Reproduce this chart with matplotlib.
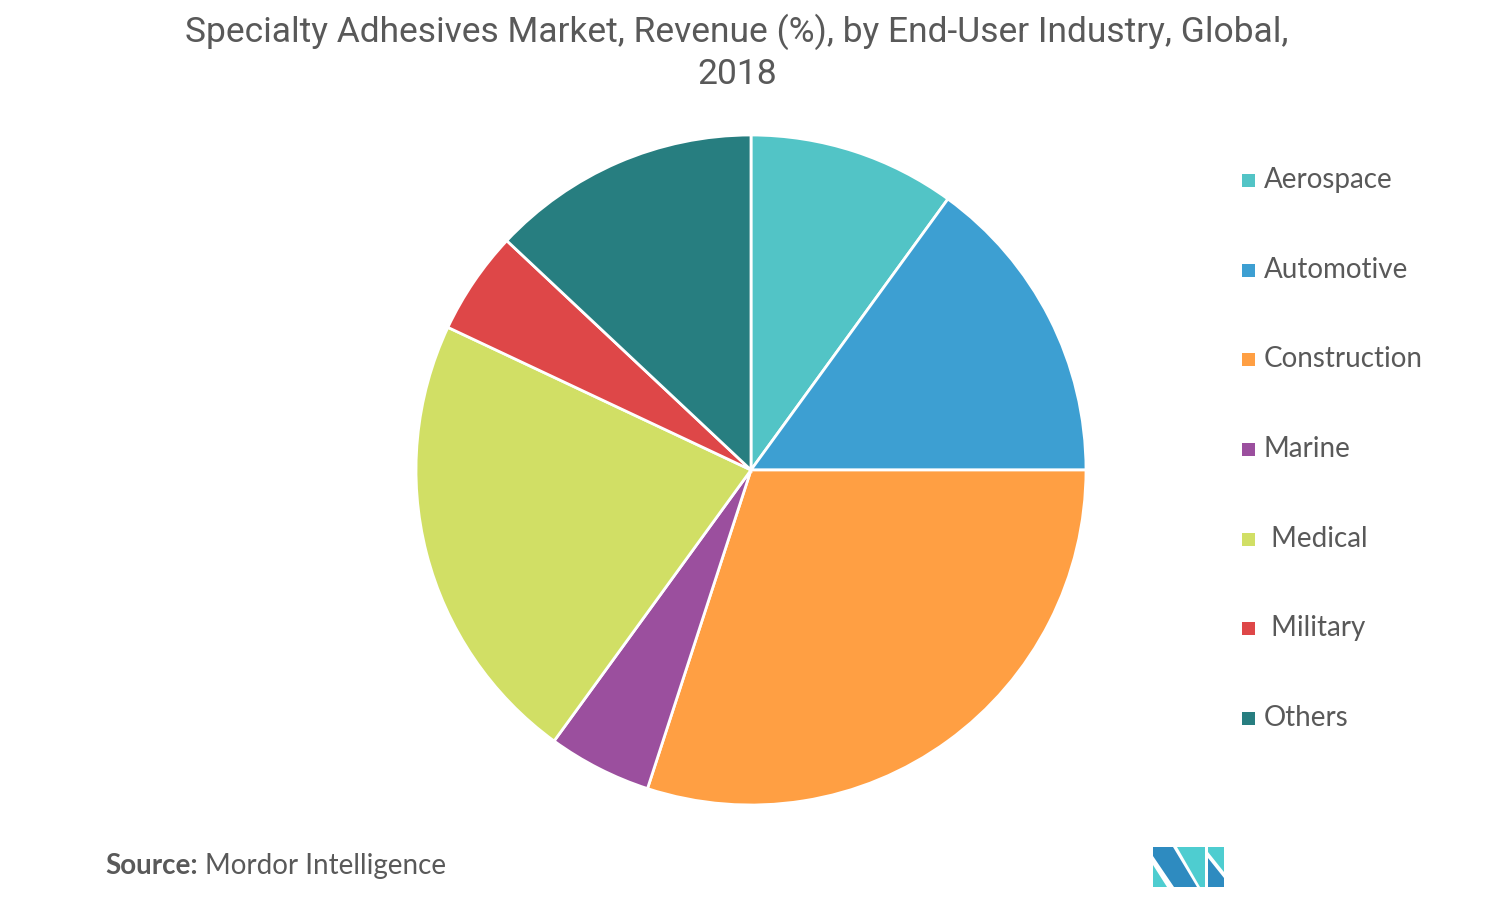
import matplotlib
matplotlib.use("Agg")
import matplotlib.pyplot as plt
from matplotlib.patches import Polygon, Rectangle
from matplotlib import font_manager

categories = ["Aerospace", "Automotive", "Construction", "Marine", " Medical", " Military", "Others"]
values = [10, 15, 30, 5, 22, 5, 13]
colors = ["#52C4C6", "#3D9FD2", "#FF9F43", "#9B4F9E", "#D1DF65", "#DE4748", "#277E80"]

title_text = "Specialty Adhesives Market, Revenue (%), by End-User Industry, Global,\n2018"

title_font = ["Roboto", "DejaVu Sans"]
body_font = ["Lato", "DejaVu Sans"]

W, H = 1489, 902
fig = plt.figure(figsize=(W / 100, H / 100), dpi=100)
fig.patch.set_facecolor("white")

cx, cy, r = 751, 470, 335
ax = fig.add_axes([(cx - r) / W, (H - cy - r) / H, 2 * r / W, 2 * r / H])
ax.pie(values, colors=colors, startangle=90, counterclock=False,
       wedgeprops=dict(edgecolor="white", linewidth=2), radius=1)
ax.set_xlim(-1.0, 1.0)
ax.set_ylim(-1.0, 1.0)
ax.set_aspect("equal")
ax.axis("off")

text_color = "#595959"
fig.text(737 / W, 1 - 52 / H, title_text, ha="center", va="center", fontsize=25.5,
         color=text_color, family=title_font, linespacing=1.3)

# legend
leg_y = [180, 270, 359, 449, 539, 628, 718]
for cat, col, y in zip(categories, colors, leg_y):
    s = 13
    fig.patches.append(Rectangle(((1242) / W, (H - y - s / 2) / H), s / W, s / H,
                                 transform=fig.transFigure, facecolor=col, edgecolor="none"))
    fig.text(1264 / W, 1 - y / H, cat, ha="left", va="center", fontsize=20,
             color=text_color, family=body_font)

# source
t = fig.text(105 / W, 1 - 866 / H, "Source:", ha="left", va="center", fontsize=20,
             color=text_color, family=body_font, fontweight="bold")
fig.canvas.draw()
bb = t.get_window_extent()
fig.text((bb.x1 + 7) / W, 1 - 866 / H, "Mordor Intelligence", ha="left", va="center",
         fontsize=20, color=text_color, family=body_font)

# logo
def poly(pts, col):
    fig.patches.append(Polygon([(x / W, 1 - y / H) for x, y in pts], closed=True,
                               transform=fig.transFigure, facecolor=col, edgecolor="none"))

dark = "#2E8BC0"
teal = "#4ECDD0"
poly([(1153, 847), (1173, 847), (1197, 887), (1174, 887), (1153, 856)], dark)
poly([(1153, 865), (1153, 887), (1167, 887)], teal)
poly([(1177, 847), (1205, 847), (1205, 887), (1200, 887)], teal)
poly([(1208, 847), (1224, 847), (1224, 872), (1208, 852)], teal)
poly([(1208, 858), (1224, 878), (1224, 887), (1208, 887)], dark)

fig.savefig("out.png", dpi=100, facecolor="white")
